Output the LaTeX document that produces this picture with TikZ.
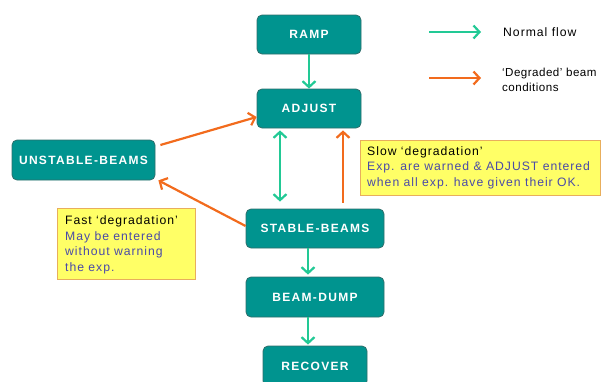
\documentclass[tikz,border=0pt]{standalone}
\usepackage{fontspec}
\setmainfont{Liberation Sans}[LetterSpace=8]
\newfontfamily\labelfont{Liberation Sans}[LetterSpace=11]
\newfontfamily\tightfont{Liberation Sans}[LetterSpace=4]
\usetikzlibrary{arrows.meta}
\definecolor{tealfill}{HTML}{00948F}
\definecolor{tealdraw}{HTML}{2E6E6B}
\definecolor{flowgreen}{HTML}{22C995}
\definecolor{degorange}{HTML}{F26B1D}
\definecolor{noteyellow}{HTML}{FFFF66}
\definecolor{noteborder}{HTML}{E8AE5C}
\definecolor{noteblue}{HTML}{4A4AA8}
\tikzset{
  state/.style={draw=tealdraw, line width=0.8pt, fill=tealfill, rounded corners=5pt,
    text=white, font=\labelfont\fontsize{12}{13}\selectfont\bfseries, inner sep=0pt},
  normal/.style={draw=flowgreen, line width=2.2pt, -{Straight Barb[length=6pt,width=13pt,line width=2.2pt]}},
  normalboth/.style={draw=flowgreen, line width=2.2pt, {Straight Barb[length=6pt,width=13pt,line width=2.2pt]}-{Straight Barb[length=6pt,width=13pt,line width=2.2pt]}},
  degraded/.style={draw=degorange, line width=2.2pt, -{Straight Barb[length=6pt,width=13pt,line width=2.2pt]}},
  note/.style={draw=noteborder, line width=1pt, fill=noteyellow, inner sep=0pt},
  notetext/.style={anchor=west, align=left, font=\fontsize{12.2}{15.5}\selectfont, inner sep=0pt},
  legendtext/.style={anchor=west, align=left, font=\fontsize{12.2}{15.5}\selectfont, inner sep=0pt}
}
\begin{document}
\begin{tikzpicture}[x=1pt,y=-1pt]
\useasboundingbox (0,0) rectangle (602,381);
\clip (0,0) rectangle (602,381);
% states
\node[state, minimum width=104, minimum height=39] (ramp) at (309,34.5) {RAMP};
\node[state, minimum width=104, minimum height=39] (adjust) at (309,108.5) {ADJUST};
\node[state, minimum width=143, minimum height=40] (unstable) at (83.5,160) {UNSTABLE-BEAMS};
\node[state, minimum width=138, minimum height=39] (stable) at (315,228.5) {STABLE-BEAMS};
\node[state, minimum width=138, minimum height=40] (dump) at (315,297) {BEAM-DUMP};
\node[state, minimum width=104, minimum height=40] (recover) at (315,366) {RECOVER};
% notes
\node[note, minimum width=240, minimum height=55] (slow) at (480,167.5) {};
\node[notetext] (slowtext) at (367,167.5)
  {Slow ‘degradation’\\\textcolor{noteblue}{Exp. are warned \& ADJUST entered}\\\textcolor{noteblue}{when all exp. have given their OK.}};
\node[note, minimum width=138, minimum height=71] (fast) at (126,243.5) {};
\node[notetext] (fasttext) at (65,245)
  {Fast ‘degradation’\\\textcolor{noteblue}{May be entered}\\\textcolor{noteblue}{without warning}\\\textcolor{noteblue}{the exp.}};
% normal flow
\draw[normal] (ramp.south) -- (adjust.north);
\draw[normalboth, shorten <=2pt, shorten >=7pt] ([xshift=-29pt]adjust.south) -- ([xshift=-35pt]stable.north);
\draw[normal, shorten >=2pt] ([xshift=-7pt]stable.south) -- ([xshift=-7pt]dump.north);
\draw[normal, shorten >=1pt] ([xshift=-7pt]dump.south) -- ([xshift=-7pt]recover.north);
% degraded
\draw[degraded, shorten <=6pt, shorten >=2pt] ([xshift=28pt]stable.north) -- ([xshift=34pt]adjust.south);
\draw[degraded] ([xshift=5pt,yshift=15pt]unstable.east) -- ([yshift=-8.5pt]adjust.west);
\draw[degraded] ([yshift=2.5pt]stable.west) -- ([xshift=3pt]unstable.south east);
% legend
\coordinate (lga) at (429,32);
\coordinate (lgb) at (481,32);
\coordinate (lda) at (429,78);
\coordinate (ldb) at (481,78);
\draw[normal] (lga) -- (lgb);
\draw[degraded] (lda) -- (ldb);
\node[legendtext] (lgt) at (503,32) {Normal flow};
\node[legendtext, font=\tightfont\fontsize{11.6}{15.5}\selectfont] (ldt) at (502,80) {‘Degraded’ beam\\conditions};
\end{tikzpicture}
\end{document}
